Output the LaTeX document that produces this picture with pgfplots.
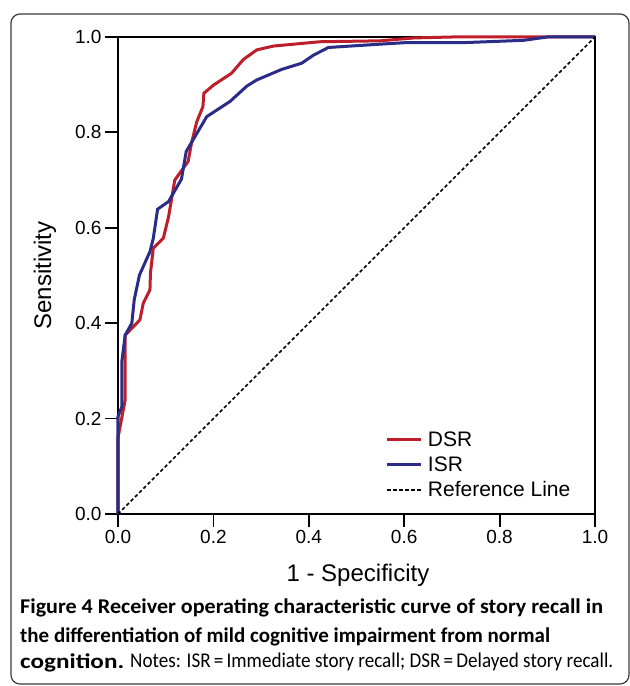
\documentclass[border=0pt]{standalone}
\usepackage{pgfplots}
\pgfplotsset{compat=1.18}
\usepackage{fontspec}
\setmainfont{Liberation Sans}
\newfontfamily\capfont{Carlito}
\definecolor{dsrred}{RGB}{190,30,42}
\definecolor{isrblue}{RGB}{42,44,135}
\definecolor{boxgray}{RGB}{60,60,60}
% stretch a caption line to a given width, keeping its height
\newcommand{\capline}[2]{\resizebox{#1}{\height}{#2}}

\begin{document}
\begin{tikzpicture}
\path[use as bounding box] (0bp,0bp) rectangle (630bp,686bp);
\draw[boxgray, line width=1.2bp, rounded corners=9bp] (11bp,2bp) rectangle (629bp,672bp);

\begin{axis}[
  at={(118bp,172bp)}, anchor=south west,
  scale only axis, width=477bp, height=477bp,
  xmin=0, xmax=1, ymin=0, ymax=1,
  xtick={0,0.2,...,1.0}, ytick={0,0.2,...,1.0},
  tick pos=left,
  tick align=outside, major tick length=13bp,
  every tick/.style={black, line width=1.8bp},
  axis line style={line width=1.8bp},
  /pgf/number format/.cd, fixed, fixed zerofill, precision=1, assume math mode=true,
  /pgfplots/.cd,
  tick label style={font=\fontsize{19bp}{23bp}\selectfont},
  xlabel={1 - Specificity}, ylabel={Sensitivity},
  label style={font=\fontsize{24bp}{28bp}\selectfont},
  xlabel style={at={(axis description cs:0.503,-0.128)}, anchor=center},
  ylabel style={at={(axis description cs:-0.153,0.5)}, anchor=center},
  clip=false,
  legend cell align=left,
  legend style={draw=none, fill=none, at={(axis description cs:0.555,0.182)}, anchor=north west,
    font=\fontsize{21bp}{25bp}\selectfont, row sep=5bp,
    nodes={inner xsep=5bp}},
  legend image code/.code={\draw[#1] (0bp,0bp) -- (34bp,0bp);},
]
\addplot[dsrred, line width=3bp] coordinates {
  (0,0) (0,0.16) (0.015,0.239) (0.015,0.375) (0.046,0.407) (0.053,0.442)
  (0.067,0.470) (0.068,0.505) (0.074,0.557) (0.095,0.578) (0.106,0.623)
  (0.119,0.700) (0.147,0.739) (0.154,0.777) (0.165,0.822) (0.178,0.854)
  (0.180,0.882) (0.200,0.899) (0.238,0.924) (0.263,0.953) (0.291,0.973)
  (0.326,0.981) (0.423,0.990) (0.55,0.992) (0.62,0.998) (0.7,1.0) (1,1)};
\addlegendentry{DSR}
\addplot[isrblue, line width=3bp] coordinates {
  (0,0) (0,0.204) (0.008,0.225) (0.008,0.319) (0.015,0.375) (0.029,0.400)
  (0.034,0.449) (0.045,0.501) (0.067,0.550) (0.074,0.578) (0.083,0.639)
  (0.106,0.655) (0.133,0.702) (0.143,0.760) (0.186,0.833) (0.235,0.865)
  (0.270,0.897) (0.291,0.910) (0.343,0.932) (0.385,0.945) (0.410,0.962)
  (0.441,0.978) (0.55,0.985) (0.6,0.988) (0.72,0.988) (0.85,0.993)
  (0.9,1.0) (1,1)};
\addlegendentry{ISR}
\addplot[black, line width=1.6bp, dash pattern=on 3.5bp off 2.5bp] coordinates {(0,0) (1,1)};
\addlegendentry{Reference Line}
\end{axis}

\begin{scope}[every node/.style={anchor=base west, inner sep=0pt, font=\capfont\fontsize{21bp}{25bp}\selectfont}]
\node at (20bp,72bp) {\capline{583bp}{\bfseries Figure 4 Receiver operating characteristic curve of story recall in}};
\node at (20bp,43bp) {\capline{530bp}{\bfseries the differentiation of mild cognitive impairment from normal}};
\node at (20bp,18bp) {\capline{104bp}{\bfseries cognition.}};
\node at (130bp,18bp) {\capline{483bp}{Notes: ISR\,=\,Immediate story recall; DSR\,=\,Delayed story recall.}};
\end{scope}
\end{tikzpicture}
\end{document}
